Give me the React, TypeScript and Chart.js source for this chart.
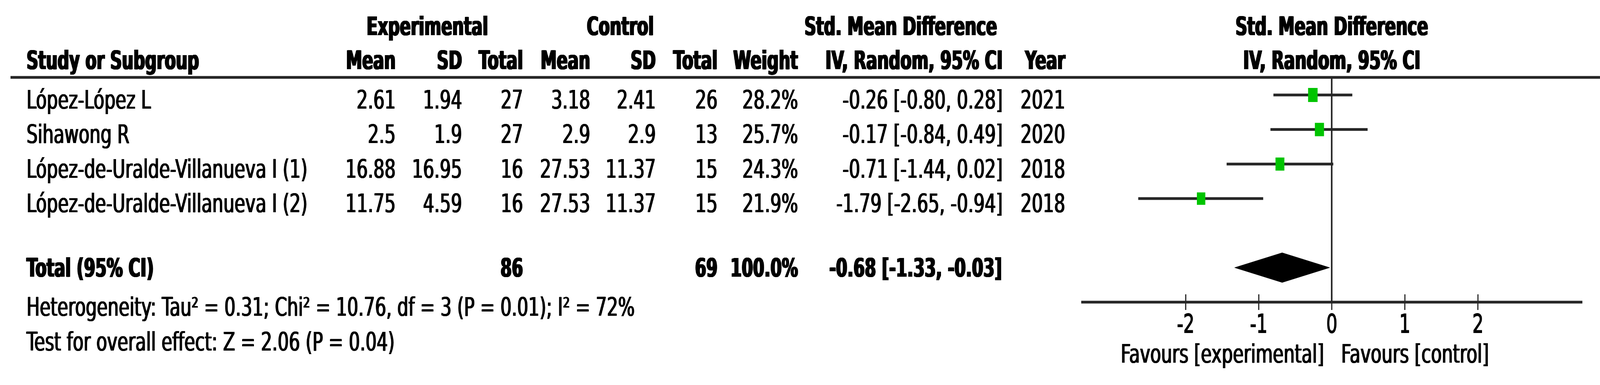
import React, { useEffect, useRef } from "react";
import { Chart, registerables } from "chart.js";

Chart.register(...registerables);

// ---------------- data ----------------
const STUDY_NAMES = [
  "López-López L",
  "Sihawong R",
  "López-de-Uralde-Villanueva I (1)",
  "López-de-Uralde-Villanueva I (2)",
];
const EXP_MEAN = [2.61, 2.5, 16.88, 11.75];
const EXP_SD = [1.94, 1.9, 16.95, 4.59];
const EXP_N = [27, 27, 16, 16];
const CTL_MEAN = [3.18, 2.9, 27.53, 27.53];
const CTL_SD = [2.41, 2.9, 11.37, 11.37];
const CTL_N = [26, 13, 15, 15];
const WEIGHTS = [28.2, 25.7, 24.3, 21.9];
const SMD = [-0.26, -0.17, -0.71, -1.79];
const CI_LO = [-0.8, -0.84, -1.44, -2.65];
const CI_HI = [0.28, 0.49, 0.02, -0.94];
const YEARS = [2021, 2020, 2018, 2018];

const TOTAL_EXP_N = 86;
const TOTAL_CTL_N = 69;
const TOTAL_WEIGHT = 100.0;
const TOTAL_SMD = -0.68;
const TOTAL_LO = -1.33;
const TOTAL_HI = -0.03;

const HETEROGENEITY = "Heterogeneity: Tau² = 0.31; Chi² = 10.76, df = 3 (P = 0.01); I² = 72%";
const OVERALL_TEST = "Test for overall effect: Z = 2.06 (P = 0.04)";
const X_TICKS = [-2, -1, 0, 1, 2];
const X_MIN = -3.43;
const X_MAX = 3.43;

// ---------------- layout / style ----------------
const W = 4128;
const H = 985;
const VW = Math.round(W / 0.68); // virtual canvas width, squeezed to W by CSS
const S = W / VW;
const vx = (a: number) => a / S;

const FONT = "'DejaVu Sans', sans-serif";
const FS = 66;
const BOLD_SX = 0.926;
const TEXT_COLOR = "#000";
const LINE_COLOR = "#262626";
const GREEN = "#00c400";
const TOTAL_ROW = 6;
const DIAMOND_HALF = 0.43;

const fmt2 = (v: number) => v.toFixed(2);
const ciText = (e: number, lo: number, hi: number) => `${fmt2(e)} [${fmt2(lo)}, ${fmt2(hi)}]`;

const tablePlugin = {
  id: "forestTable",
  afterDraw(chart: any) {
    const ctx = chart.ctx as CanvasRenderingContext2D;
    const xs = chart.scales.x;
    const ys = chart.scales.y;
    const x0 = xs.getPixelForValue(0);

    const txt = (t: string, x: number, y: number, align: CanvasTextAlign, bold = false) => {
      ctx.save();
      ctx.font = `${bold ? "bold " : ""}${FS}px ${FONT}`;
      ctx.fillStyle = TEXT_COLOR;
      ctx.textAlign = align;
      ctx.textBaseline = "alphabetic";
      ctx.translate(x, y);
      if (bold) ctx.scale(BOLD_SX, 1);
      const offs = bold ? [-2.4, -1.2, 0, 1.2, 2.4] : [-1.5, 0, 1.5];
      offs.forEach((d) => ctx.fillText(t, d, 0));
      ctx.restore();
    };

    ctx.save();
    ctx.fillStyle = LINE_COLOR;
    // header rule
    ctx.fillRect(vx(27), 198 - 3.5, vx(4096) - vx(27), 7);
    // axis line along the x scale
    ctx.fillRect(xs.left, xs.top - 3.5, xs.right - xs.left, 7);
    // upper halves of the tick marks
    const tw = 3 / S;
    xs.ticks.forEach((t: any) => {
      const px = xs.getPixelForValue(t.value);
      ctx.fillRect(px - tw / 2, xs.top - 20, tw, 20);
    });
    ctx.restore();

    // headers
    const h1 = 90;
    const h2 = 177;
    txt("Experimental", vx(1094), h1, "center", true);
    txt("Control", vx(1588), h1, "center", true);
    txt("Std. Mean Difference", vx(2306), h1, "center", true);
    txt("Std. Mean Difference", x0, h1, "center", true);
    txt("Study or Subgroup", vx(68), h2, "left", true);
    txt("Mean", vx(1013), h2, "right", true);
    txt("SD", vx(1183), h2, "right", true);
    txt("Total", vx(1339), h2, "right", true);
    txt("Mean", vx(1511), h2, "right", true);
    txt("SD", vx(1679), h2, "right", true);
    txt("Total", vx(1837), h2, "right", true);
    txt("Weight", vx(2043), h2, "right", true);
    txt("IV, Random, 95% CI", vx(2567), h2, "right", true);
    txt("Year", vx(2727), h2, "right", true);
    txt("IV, Random, 95% CI", x0, h2, "center", true);

    // study rows
    STUDY_NAMES.forEach((name, i) => {
      const y = ys.getPixelForValue(i + 1) + 35;
      txt(name, vx(68), y, "left");
      txt(String(EXP_MEAN[i]), vx(1013), y, "right");
      txt(String(EXP_SD[i]), vx(1183), y, "right");
      txt(String(EXP_N[i]), vx(1339), y, "right");
      txt(String(CTL_MEAN[i]), vx(1511), y, "right");
      txt(String(CTL_SD[i]), vx(1679), y, "right");
      txt(String(CTL_N[i]), vx(1837), y, "right");
      txt(`${WEIGHTS[i].toFixed(1)}%`, vx(2043), y, "right");
      txt(ciText(SMD[i], CI_LO[i], CI_HI[i]), vx(2567), y, "right");
      txt(String(YEARS[i]), vx(2727), y, "right");
    });

    // total row
    const yt = ys.getPixelForValue(TOTAL_ROW) + 23;
    txt("Total (95% CI)", vx(68), yt, "left", true);
    txt(String(TOTAL_EXP_N), vx(1339), yt, "right", true);
    txt(String(TOTAL_CTL_N), vx(1837), yt, "right", true);
    txt(`${TOTAL_WEIGHT.toFixed(1)}%`, vx(2043), yt, "right", true);
    txt(ciText(TOTAL_SMD, TOTAL_LO, TOTAL_HI), vx(2565), yt, "right", true);

    txt(HETEROGENEITY, vx(68), 808, "left");
    txt(OVERALL_TEST, vx(68), 897, "left");

    // favours labels
    txt("Favours [experimental]", x0 - vx(20), 928, "right");
    txt("Favours [control]", x0 + vx(24), 928, "left");
  },
};

export default function App() {
  const ref = useRef<HTMLCanvasElement>(null);

  useEffect(() => {
    const canvas = ref.current;
    if (!canvas) return;
    Chart.defaults.font.family = FONT;

    const ciSets = STUDY_NAMES.map((name, i) => ({
      label: `${name} CI`,
      data: [
        { x: CI_LO[i], y: i + 1 },
        { x: CI_HI[i], y: i + 1 },
      ],
      showLine: true,
      borderColor: LINE_COLOR,
      borderWidth: 7,
      pointRadius: 0,
      fill: false,
      order: 3,
    }));

    const squares = {
      label: "Std. Mean Difference",
      data: SMD.map((v, i) => ({ x: v, y: i + 1 })),
      showLine: false,
      pointStyle: "rect",
      pointRadius: WEIGHTS.map((w) => 4.8 * Math.sqrt(w)),
      pointHoverRadius: WEIGHTS.map((w) => 4.8 * Math.sqrt(w)),
      backgroundColor: GREEN,
      borderColor: GREEN,
      borderWidth: 0,
      order: 1,
    };

    const diamond = {
      label: "Total",
      data: [
        { x: TOTAL_LO, y: TOTAL_ROW },
        { x: TOTAL_SMD, y: TOTAL_ROW - DIAMOND_HALF },
        { x: TOTAL_HI, y: TOTAL_ROW },
        { x: TOTAL_SMD, y: TOTAL_ROW + DIAMOND_HALF },
        { x: TOTAL_LO, y: TOTAL_ROW },
      ],
      showLine: true,
      fill: "shape",
      backgroundColor: "#000",
      borderColor: "#000",
      borderWidth: 1,
      pointRadius: 0,
      tension: 0,
      order: 2,
    };

    const chart = new Chart(canvas, {
      type: "scatter",
      data: { datasets: [...ciSets, squares, diamond] as any },
      options: {
        responsive: false,
        animation: false,
        devicePixelRatio: 1,
        layout: {
          padding: { left: vx(2768), right: VW - vx(4051), top: 198, bottom: 0 },
        },
        plugins: {
          legend: { display: false },
          tooltip: { enabled: false },
        },
        scales: {
          x: {
            type: "linear",
            min: X_MIN,
            max: X_MAX,
            afterBuildTicks: (scale: any) => {
              scale.ticks = X_TICKS.map((v) => ({ value: v }));
            },
            afterFit: (scale: any) => {
              scale.height = H - 773;
            },
            ticks: {
              font: { size: FS, family: FONT },
              color: TEXT_COLOR,
              textStrokeColor: TEXT_COLOR,
              textStrokeWidth: 2,
              padding: 1,
              autoSkip: false,
              maxRotation: 0,
              callback: (v: any) => String(v),
            },
            grid: {
              drawOnChartArea: true,
              color: (c: any) => (c.tick && c.tick.value === 0 ? LINE_COLOR : "rgba(0,0,0,0)"),
              lineWidth: (c: any) => (c.tick && c.tick.value === 0 ? 4 / S : 0),
              tickColor: LINE_COLOR,
              tickWidth: 3 / S,
              tickLength: 20,
            },
            border: { display: false },
          },
          y: {
            type: "linear",
            min: 0.49,
            max: 7,
            reverse: true,
            display: false,
          },
        },
      } as any,
      plugins: [tablePlugin],
    });

    return () => chart.destroy();
  }, []);

  return (
    <canvas
      ref={ref}
      width={VW}
      height={H}
      style={{
        position: "absolute",
        left: 0,
        top: 0,
        width: `${W}px`,
        height: `${H}px`,
        background: "#fff",
      }}
    />
  );
}
